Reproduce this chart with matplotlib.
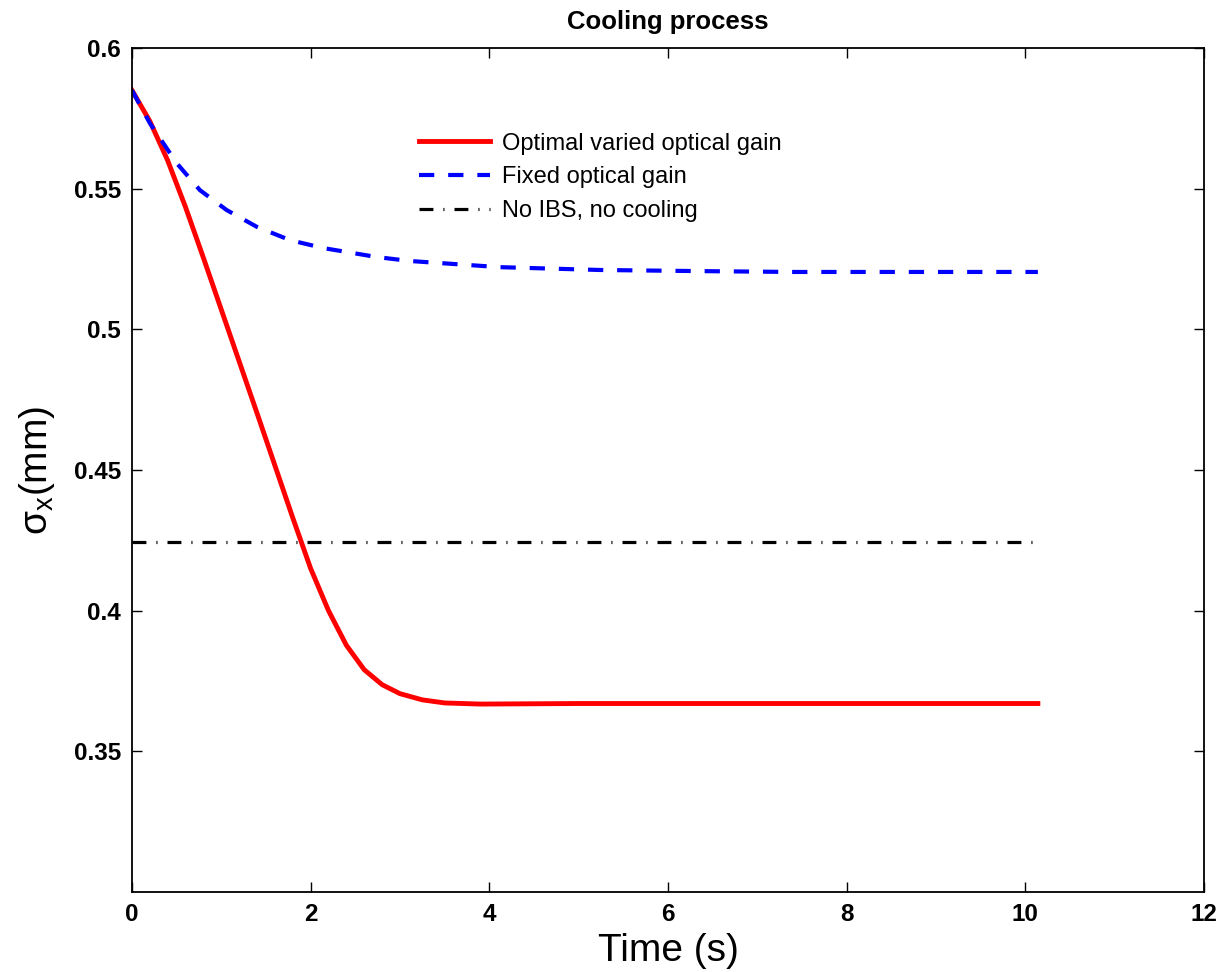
import numpy as np
import matplotlib
matplotlib.use('Agg')
import matplotlib.pyplot as plt

plt.rcParams['font.family'] = ['Liberation Sans', 'DejaVu Sans']
plt.rcParams['mathtext.fontset'] = 'custom'
plt.rcParams['mathtext.rm'] = 'Liberation Sans'
plt.rcParams['mathtext.it'] = 'Liberation Sans'
plt.rcParams['lines.scale_dashes'] = False

# Optimal varied optical gain (red)
t_red = [0, 0.2, 0.4, 0.6, 0.8, 1.0, 1.2, 1.4, 1.6, 1.8, 2.0, 2.2, 2.4,
         2.6, 2.8, 3.0, 3.25, 3.5, 3.9, 5.0, 7.0, 10.14]
sig_red = [0.585, 0.5740, 0.5600, 0.5434, 0.5254, 0.5070, 0.4886, 0.4702,
           0.4516, 0.4330, 0.4150, 0.4000, 0.3877, 0.3790, 0.3737, 0.3705,
           0.3683, 0.3672, 0.3668, 0.3670, 0.3670, 0.3670]

# Fixed optical gain (blue)
t_blue = [0, 0.2, 0.5, 0.76, 1.06, 1.4, 1.77, 2.14, 2.74, 3.11, 4.12, 5.24,
          6.36, 7.4, 10.14]
sig_blue = [0.585, 0.5733, 0.5591, 0.5495, 0.5424, 0.5364, 0.5317, 0.5289,
            0.5257, 0.5243, 0.5221, 0.5211, 0.5207, 0.5204, 0.5204]

# No IBS, no cooling (black)
t_black = [0, 10.14]
sig_black = [0.4244, 0.4244]

xticks = [0, 2, 4, 6, 8, 10, 12]
yticks = [0.35, 0.4, 0.45, 0.5, 0.55, 0.6]
yticklabels = ['0.35', '0.4', '0.45', '0.5', '0.55', '0.6']

fig = plt.figure(figsize=(12.23, 9.72), dpi=100)
ax = fig.add_axes([0.1079, 0.0823, 0.8766, 0.8683])

ax.plot(t_red, sig_red, color='#ff0000', lw=3.5, label='Optimal varied optical gain')
ax.plot(t_blue, sig_blue, color='#0000ff', lw=3.0, dashes=(11, 10),
        label='Fixed optical gain')
ax.plot(t_black, sig_black, color='black', lw=2.3, dashes=(10, 7.2, 0.8, 7.2),
        label='No IBS, no cooling')

ax.set_xlim(0, 12)
ax.set_ylim(0.3, 0.6)
ax.set_xticks(xticks)
ax.set_yticks(yticks)
ax.set_yticklabels(yticklabels)
ax.tick_params(direction='in', length=7, width=1, top=True, right=True,
               labelsize=17.5, pad=8)
for lab in ax.get_xticklabels() + ax.get_yticklabels():
    lab.set_fontweight('bold')
for sp in ax.spines.values():
    sp.set_linewidth(1.3)

ax.set_title('Cooling process', fontsize=18.5, fontweight='bold', pad=14)
ax.set_xlabel('Time (s)', fontsize=28, labelpad=5)
ax.set_ylabel(r'$\mathrm{\sigma_x}$(mm)', fontsize=28, labelpad=12)

ax.legend(loc='upper left', bbox_to_anchor=(0.248, 0.925), frameon=False,
          handlelength=3.0, handletextpad=0.5, labelspacing=0.5,
          prop={'size': 17})

fig.savefig('out.png', dpi=100)
